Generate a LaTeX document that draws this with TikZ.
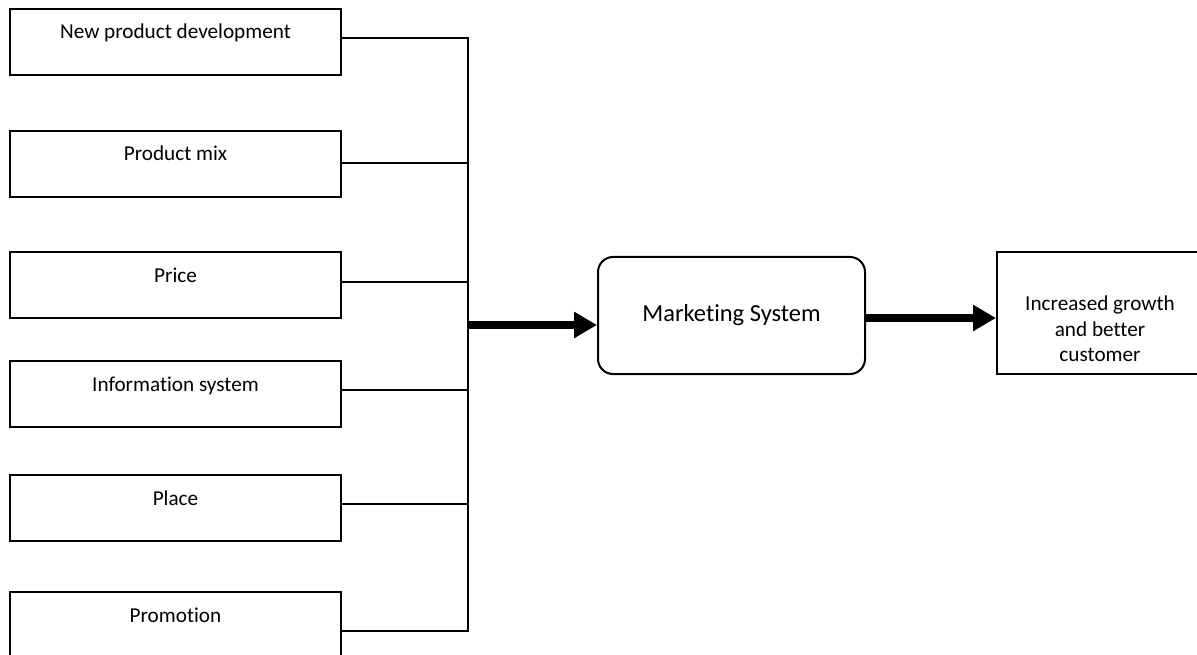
\documentclass[tikz,border=0pt]{standalone}
\usepackage{fontspec}
\setmainfont{Carlito}[Ligatures=NoCommon]
\usetikzlibrary{arrows.meta}
\begin{document}
\begin{tikzpicture}[x=1pt,y=-1pt,
  inbox/.style={draw, line width=2pt, minimum width=331pt, inner sep=0pt,
    text height=30pt, text depth=36pt, font=\fontsize{21.2}{25.6}\selectfont},
  msbox/.style={draw, line width=2pt, rounded corners=15pt, minimum width=267pt,
    minimum height=117pt, inner sep=0pt, font=\fontsize{24.5}{29}\selectfont},
  outbox/.style={draw, line width=2pt, minimum width=208pt, minimum height=122pt, inner sep=0pt},
  txt/.style={inner sep=0pt, align=center, font=\fontsize{21.2}{25.6}\selectfont},
  conn/.style={line width=2pt},
  bigarrow/.style={line width=8.5pt, -{Triangle[length=23pt,width=25pt]}}
]
\useasboundingbox (0,0) rectangle (1197,655);
\clip (0,0) rectangle (1197,655);
\fill[white] (0,0) rectangle (1197,655);

\node[inbox] (b1) at (175.5,42) {New product development};
\node[inbox] (b2) at (175.5,164) {Product mix};
\node[inbox] (b3) at (175.5,285) {Price};
\node[inbox] (b4) at (175.5,394) {Information system};
\node[inbox] (b5) at (175.5,508) {Place};
\node[inbox] (b6) at (175.5,625) {Promotion};

\coordinate (busx) at (468,0);

\node[msbox] (ms) at (731.5,315.5) {Marketing System};
\node[outbox] (out) at (1101,313) {};
\node[txt] (outtxt) at (1100,329) {Increased growth\\and better\\customer};

\draw[conn] (b1.east |- 0,38) -- (busx |- 0,38) -- (busx |- 0,631) -- (b6.east |- 0,631);
\draw[conn] (b2.east |- 0,163) -- (busx |- 0,163);
\draw[conn] (b3.east |- 0,282) -- (busx |- 0,282);
\draw[conn] (b4.east |- 0,390) -- (busx |- 0,390);
\draw[conn] (b5.east |- 0,504) -- (busx |- 0,504);

\coordinate (a1) at (468,325);
\draw[bigarrow] (a1) -- (a1 -| ms.west);
\coordinate (a2) at (ms.east |- 0,318);
\draw[bigarrow] (a2) -- (a2 -| out.west);
\end{tikzpicture}
\end{document}
